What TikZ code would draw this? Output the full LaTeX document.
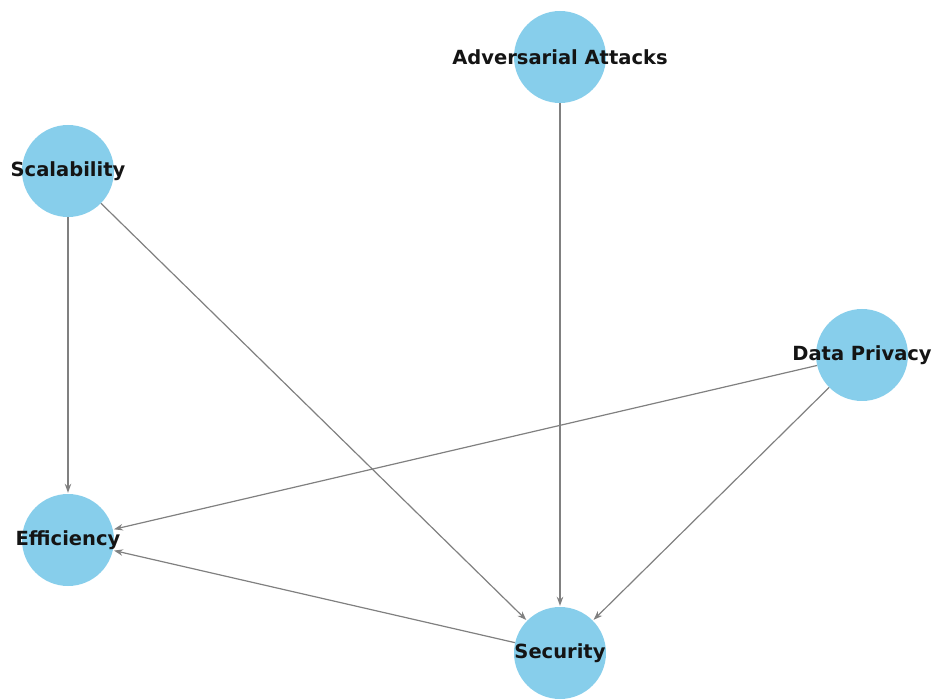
\documentclass[tikz,border=0pt]{standalone}
\usepackage{fontspec}
\setmainfont{DejaVu Sans}
\usetikzlibrary{arrows.meta}

\begin{document}
\begin{tikzpicture}[
  x=1pt, y=-1pt,
  vert/.style={circle, fill={rgb,255:red,135;green,206;blue,235}, minimum size=92pt, inner sep=0pt},
  lbl/.style={font=\fontsize{19.5}{22}\selectfont\bfseries, text={rgb,255:red,20;green,20;blue,20}},
  arr/.style={-{Stealth[length=9pt, width=6.5pt]}, draw={rgb,255:red,128;green,128;blue,128}, line width=1.2pt, shorten >=1pt}]
\useasboundingbox (0,0) rectangle (935,700);
% circles
\node[vert] (adv)  at (560,57)  {};
\node[vert] (scal) at (68,171)  {};
\node[vert] (priv) at (862,355) {};
\node[vert] (eff)  at (68,540)  {};
\node[vert] (sec)  at (560,653) {};
% edges
\draw[arr] (scal) -- (eff);
\draw[arr] (scal) -- (sec);
\draw[arr] (adv) -- (sec);
\draw[arr] (priv) -- (eff);
\draw[arr] (priv) -- (sec);
\draw[arr] (sec) -- (eff);
% labels
\node[lbl] at (adv)  {Adversarial Attacks};
\node[lbl] at (scal) {Scalability};
\node[lbl] at (priv) {Data Privacy};
\node[lbl] at (eff)  {Efficiency};
\node[lbl] at (sec)  {Security};
\end{tikzpicture}
\end{document}
